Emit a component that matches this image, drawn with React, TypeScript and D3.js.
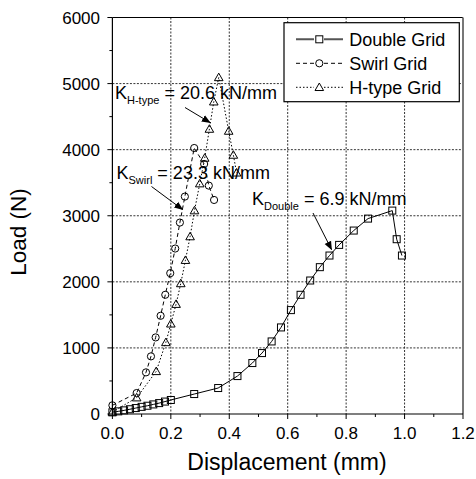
import React from "react";
import * as d3 from "d3";

const doubleX = [0, 0.02, 0.04, 0.06, 0.08, 0.10, 0.12, 0.14, 0.16, 0.18, 0.20, 0.28, 0.362, 0.428, 0.479, 0.512, 0.545, 0.577, 0.611, 0.644, 0.677, 0.710, 0.743, 0.776, 0.826, 0.875, 0.958, 0.973, 0.991];
const doubleY = [25, 40, 55, 72, 90, 108, 125, 145, 165, 188, 212, 302, 393, 574, 771, 922, 1098, 1310, 1572, 1804, 2020, 2222, 2398, 2559, 2776, 2957, 3078, 2645, 2398];

const swirlX = [0, 0.083, 0.115, 0.132, 0.148, 0.165, 0.181, 0.198, 0.215, 0.231, 0.248, 0.280, 0.314, 0.330, 0.348];
const swirlY = [131, 317, 630, 872, 1159, 1486, 1804, 2131, 2504, 2897, 3290, 4025, 3783, 3456, 3239];

const hX = [0, 0.083, 0.150, 0.183, 0.200, 0.218, 0.234, 0.250, 0.266, 0.281, 0.299, 0.316, 0.332, 0.347, 0.364, 0.398, 0.414, 0.425];
const hY = [30, 247, 645, 1083, 1365, 1662, 1975, 2327, 2685, 3078, 3486, 3874, 4312, 4725, 5093, 4282, 3919, 3650];

const xTicks = [0, 0.2, 0.4, 0.6, 0.8, 1.0, 1.2];
const yTicks = [0, 1000, 2000, 3000, 4000, 5000, 6000];
const legendLabels = ["Double Grid", "Swirl Grid", "H-type Grid"];

const FONT = "'Liberation Sans', Arial, Helvetica, sans-serif";

const W = 476, H = 479;
const L = 112.4, R = 463, T = 17.5, B = 414;

function Marker({ kind, x, y }: { kind: string; x: number; y: number }) {
  if (kind === "square") return <rect x={x - 3.5} y={y - 3.5} width={7} height={7} fill="none" stroke="#000" strokeWidth={1} />;
  if (kind === "circle") return <circle cx={x} cy={y} r={3.6} fill="none" stroke="#000" strokeWidth={1} />;
  const s = 4.3;
  return <path d={`M${x},${y - s}L${x + s},${y + s * 0.75}L${x - s},${y + s * 0.75}Z`} fill="none" stroke="#000" strokeWidth={1} />;
}

export default function App() {
  const x = d3.scaleLinear().domain([0, 1.2]).range([L, R]);
  const y = d3.scaleLinear().domain([0, 6000]).range([B, T]);
  const line = d3.line<[number, number]>().x(d => x(d[0])).y(d => y(d[1]));

  const series = [
    { xs: doubleX, ys: doubleY, kind: "square", dash: "none" },
    { xs: swirlX, ys: swirlY, kind: "circle", dash: "4,3" },
    { xs: hX, ys: hY, kind: "tri", dash: "1.5,2" },
  ];

  const minorX = d3.range(0.1, 1.2, 0.2);
  const minorY = d3.range(500, 6000, 1000);

  const arrows = [
    { x1: 185, y1: 107.5, x2: 210, y2: 122.5 },
    { x1: 151.5, y1: 186.5, x2: 182.5, y2: 209.5 },
    { x1: 313, y1: 213, x2: 331.5, y2: 249.5 },
  ];

  return (
    <svg width={W} height={H} style={{ position: "absolute", left: 0, top: 0, background: "#fff" }} fontFamily={FONT}>
      <defs>
        <marker id="ah" viewBox="0 0 10 10" refX="9" refY="5" markerWidth="9" markerHeight="9" markerUnits="userSpaceOnUse" orient="auto">
          <path d="M0,1L10,5L0,9Z" fill="#000" />
        </marker>
      </defs>
      <rect x={0} y={0} width={W} height={H} fill="#fff" />
      {xTicks.slice(1, -1).map(v => (
        <line key={"gx" + v} x1={x(v)} x2={x(v)} y1={T} y2={B} stroke="#333" strokeWidth={1} strokeDasharray="2,1.5" />
      ))}
      {yTicks.slice(1, -1).map(v => (
        <line key={"gy" + v} x1={L} x2={R} y1={y(v)} y2={y(v)} stroke="#333" strokeWidth={1} strokeDasharray="2,1.5" />
      ))}
      {series.map((s, i) => {
        const pts = s.xs.map((v, j) => [v, s.ys[j]] as [number, number]);
        return (
          <g key={"s" + i}>
            <path d={line(pts) || ""} fill="none" stroke="#000" strokeWidth={1} strokeDasharray={s.dash} />
            {pts.map((p, j) => <Marker key={j} kind={s.kind} x={x(p[0])} y={y(p[1])} />)}
          </g>
        );
      })}
      <line x1={L} x2={R} y1={T} y2={T} stroke="#000" strokeWidth={1.2} />
      <line x1={R} x2={R} y1={T} y2={B} stroke="#777" strokeWidth={2} />
      <line x1={L} x2={L} y1={T} y2={B} stroke="#000" strokeWidth={1.2} />
      <line x1={L} x2={R} y1={B} y2={B} stroke="#000" strokeWidth={1.2} />
      {xTicks.map(v => <line key={"tx" + v} x1={x(v)} x2={x(v)} y1={B} y2={B + 5} stroke="#000" />)}
      {minorX.map(v => <line key={"mx" + v} x1={x(v)} x2={x(v)} y1={B} y2={B + 3} stroke="#000" />)}
      {yTicks.map(v => <line key={"ty" + v} x1={L - 5} x2={L} y1={y(v)} y2={y(v)} stroke="#000" />)}
      {minorY.map(v => <line key={"my" + v} x1={L - 3} x2={L} y1={y(v)} y2={y(v)} stroke="#000" />)}
      {xTicks.map(v => (
        <text key={"lx" + v} x={x(v)} y={439} fontSize={17} textAnchor="middle" fill="#000">{v.toFixed(1)}</text>
      ))}
      {yTicks.map(v => (
        <text key={"ly" + v} x={100} y={y(v) + 6} fontSize={17} textAnchor="end" fill="#000">{v}</text>
      ))}
      <text x={287} y={470} fontSize={23} textAnchor="middle" fill="#000">Displacement (mm)</text>
      <text transform="translate(26,232) rotate(-90)" fontSize={22.5} textAnchor="middle" fill="#000">Load (N)</text>
      <text x={115} y={99} fontSize={18} fill="#000">K<tspan fontSize={11} dy={5}>H-type</tspan><tspan dy={-5}> = 20.6 kN/mm</tspan></text>
      <text x={116.5} y={178.5} fontSize={18} fill="#000">K<tspan fontSize={11} dy={5}>Swirl</tspan><tspan dy={-5}> = 23.3 kN/mm</tspan></text>
      <text x={252} y={204.5} fontSize={18} fill="#000">K<tspan fontSize={11} dy={5}>Double</tspan><tspan dy={-5}> = 6.9 kN/mm</tspan></text>
      {arrows.map((a, i) => (
        <line key={"ar" + i} x1={a.x1} y1={a.y1} x2={a.x2} y2={a.y2} stroke="#000" strokeWidth={1} markerEnd="url(#ah)" />
      ))}
      <rect x={284} y={22.7} width={175.3} height={79} fill="#fff" stroke="#000" strokeWidth={1.2} />
      {legendLabels.map((lab, i) => {
        const cy = 39.3 + i * 24;
        const s = series[i];
        return (
          <g key={"lg" + i}>
            <line x1={296} x2={343} y1={cy} y2={cy} stroke={i === 0 ? "#555" : "#000"} strokeWidth={i === 0 ? 2 : 1} strokeDasharray={s.dash} />
            <rect x={314} y={cy - 4} width={10} height={8} fill="#fff" />
            <Marker kind={s.kind} x={319.3} y={cy} />
            <text x={349.3} y={cy + 6.3} fontSize={18} fill="#000">{lab}</text>
          </g>
        );
      })}
    </svg>
  );
}
